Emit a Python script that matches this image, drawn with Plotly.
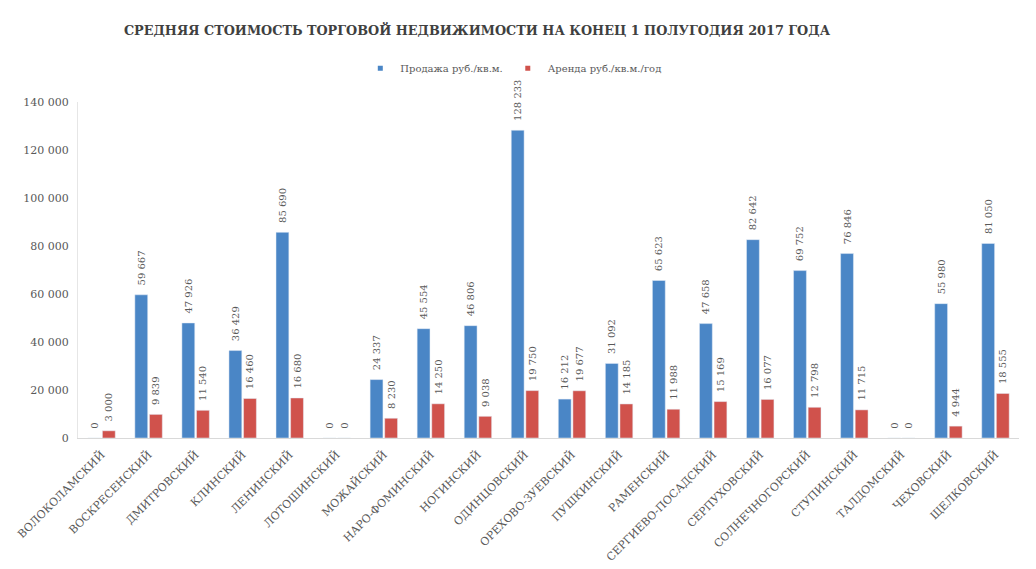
import plotly.graph_objects as go

categories = ["ВОЛОКОЛАМСКИЙ", "ВОСКРЕСЕНСКИЙ", "ДМИТРОВСКИЙ", "КЛИНСКИЙ", "ЛЕНИНСКИЙ",
              "ЛОТОШИНСКИЙ", "МОЖАЙСКИЙ", "НАРО-ФОМИНСКИЙ", "НОГИНСКИЙ", "ОДИНЦОВСКИЙ",
              "ОРЕХОВО-ЗУЕВСКИЙ", "ПУШКИНСКИЙ", "РАМЕНСКИЙ", "СЕРГИЕВО-ПОСАДСКИЙ", "СЕРПУХОВСКИЙ",
              "СОЛНЕЧНОГОРСКИЙ", "СТУПИНСКИЙ", "ТАЛДОМСКИЙ", "ЧЕХОВСКИЙ", "ЩЕЛКОВСКИЙ"]
sale = [0, 59667, 47926, 36429, 85690, 0, 24337, 45554, 46806, 128233,
        16212, 31092, 65623, 47658, 82642, 69752, 76846, 0, 55980, 81050]
rent = [3000, 9839, 11540, 16460, 16680, 0, 8230, 14250, 9038, 19750,
        19677, 14185, 11988, 15169, 16077, 12798, 11715, 0, 4944, 18555]
y_ticks = [0, 20000, 40000, 60000, 80000, 100000, 120000, 140000]
series_names = ["Продажа руб./кв.м.", "Аренда руб./кв.м./год"]
series_colors = ["#4a86c6", "#d0524c"]

FONT = "DejaVu Serif"
TXT = "#595959"

def fmt(v):
    return "\u00a0\u00a0" + f"{v:,}".replace(",", " ")

fig = go.Figure()
for vals, name, color in zip([sale, rent], series_names, series_colors):
    fig.add_trace(go.Bar(x=categories, y=vals, name=name, showlegend=False,
                         marker_color=color, text=[fmt(v) for v in vals],
                         textposition="outside", textangle=-90, cliponaxis=False,
                         constraintext="none",
                         textfont=dict(family=FONT, size=10, color=TXT)))
# legend entries with small square markers
for name, color in zip(series_names, series_colors):
    fig.add_trace(go.Scatter(x=[None], y=[None], mode="markers", name=name,
                             marker=dict(symbol="square", size=5, color=color)))

fig.update_layout(
    width=1036, height=569,
    paper_bgcolor="white", plot_bgcolor="white",
    separators=", ",
    margin=dict(l=70, r=25, t=94, b=139, autoexpand=False),
    barmode="group", bargap=0.38, bargroupgap=0.12,
    title=dict(text="<b>СРЕДНЯЯ СТОИМОСТЬ ТОРГОВОЙ НЕДВИЖИМОСТИ НА КОНЕЦ 1 ПОЛУГОДИЯ 2017 ГОДА</b>",
               x=0.424, xanchor="center", xref="paper", y=0.961, yref="container",
               yanchor="middle",
               font=dict(family=FONT, size=12.8, color="#404040")),
    legend=dict(orientation="h", x=0.300, xanchor="left", y=0.894, yref="container",
                yanchor="middle", font=dict(family=FONT, size=10, color=TXT),
                bgcolor="rgba(0,0,0,0)",
                itemwidth=30, traceorder="normal", tracegroupgap=0),
    font=dict(family=FONT, color=TXT),
)
fig.update_xaxes(tickangle=-45, showline=True, linecolor="#d9d9d9", ticks="",
                 automargin=False, ticklabelstandoff=5,
                 tickfont=dict(family=FONT, size=11, color=TXT))
fig.update_yaxes(range=[0, 140000], tickvals=y_ticks, tickformat=",d",
                 showgrid=False, zeroline=False, showline=True, linecolor="#e6e6e6",
                 automargin=False, ticklabelstandoff=6,
                 tickfont=dict(family=FONT, size=11, color=TXT))

fig.write_html("out.html")
